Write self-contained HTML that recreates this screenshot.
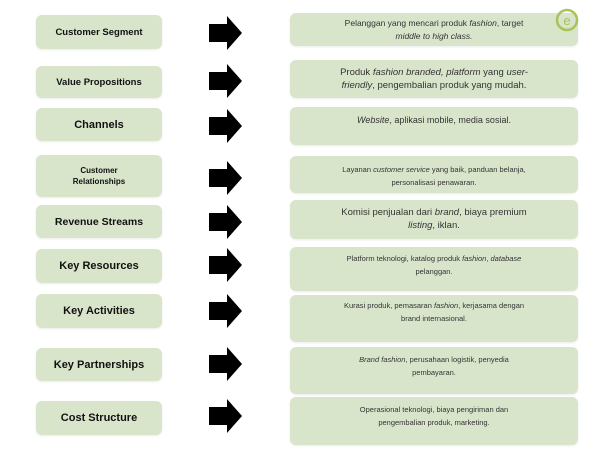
<!DOCTYPE html>
<html><head><meta charset="utf-8"><style>
body{margin:0;width:600px;height:450px;background:#fff;position:relative;overflow:hidden;font-family:"Liberation Sans",sans-serif}
.l,.r{position:absolute;background:#d9e5cb;border-radius:6px;box-shadow:0 1px 2px rgba(0,0,0,.08);text-align:center;color:#111}
.l{left:36px;width:126px;font-weight:bold;font-size:11px;display:flex;align-items:center;justify-content:center}
.r{left:290px;width:288px;font-size:8.5px;color:#333;line-height:13px;padding-top:4px;box-sizing:border-box;display:block}
.a{position:absolute;left:209px;width:33px;height:34px}
</style></head><body>
<div class="l" style="top:15px;height:34px;font-size:9.5px">Customer Segment</div>
<div class="l" style="top:66px;height:32px;font-size:9.5px">Value Propositions</div>
<div class="l" style="top:108px;height:33px">Channels</div>
<div class="l" style="top:155px;height:42px;font-size:8px;line-height:11px">Customer<br>Relationships</div>
<div class="l" style="top:205px;height:33px;font-size:10.5px">Revenue Streams</div>
<div class="l" style="top:249px;height:34px">Key Resources</div>
<div class="l" style="top:294px;height:34px">Key Activities</div>
<div class="l" style="top:348px;height:33px">Key Partnerships</div>
<div class="l" style="top:401px;height:34px">Cost Structure</div>

<div class="r" style="top:13px;height:33px">Pelanggan yang mencari produk <i>fashion</i>, target<br><i>middle to high class.</i></div>
<div class="r" style="top:60px;height:38px;font-size:9.5px;padding-top:6px">Produk <i>fashion branded, platform</i> yang <i>user-</i><br><i>friendly</i>, pengembalian produk yang mudah.</div>
<div class="r" style="top:107px;height:38px;font-size:9px;padding-top:7px"><i>Website</i>, aplikasi mobile, media sosial.</div>
<div class="r" style="top:156px;height:37px;font-size:7.5px;padding-top:7px">Layanan <i>customer service</i> yang baik, panduan belanja,<br>personalisasi penawaran.</div>
<div class="r" style="top:200px;height:39px;font-size:9.5px;padding-top:6px">Komisi penjualan dari <i>brand</i>, biaya premium<br><i>listing</i>, iklan.</div>
<div class="r" style="top:247px;height:44px;font-size:7.5px;padding-top:5px">Platform teknologi, katalog produk <i>fashion</i>, <i>database</i><br>pelanggan.</div>
<div class="r" style="top:295px;height:47px;font-size:7.5px;padding-top:4px">Kurasi produk, pemasaran <i>fashion</i>, kerjasama dengan<br>brand internasional.</div>
<div class="r" style="top:347px;height:47px;font-size:7.5px;padding-top:6px"><i>Brand fashion</i>, perusahaan logistik, penyedia<br>pembayaran.</div>
<div class="r" style="top:397px;height:48px;font-size:7.5px;padding-top:6px">Operasional teknologi, biaya pengiriman dan<br>pengembalian produk, marketing.</div>

<svg style="position:absolute;left:0;top:0" width="600" height="450">
<defs><polygon id="ar" points="0,-9 18,-9 18,-17 33,0 18,17 18,9 0,9" fill="#000"/></defs>
<use href="#ar" x="209" y="33"/><use href="#ar" x="209" y="81"/><use href="#ar" x="209" y="126"/>
<use href="#ar" x="209" y="178"/><use href="#ar" x="209" y="222"/><use href="#ar" x="209" y="265"/>
<use href="#ar" x="209" y="311"/><use href="#ar" x="209" y="364"/><use href="#ar" x="209" y="416"/>
<circle cx="567" cy="20" r="10" fill="none" stroke="#a9c25a" stroke-width="2.5"/>
<text x="567" y="25" font-size="13" fill="#a9c25a" text-anchor="middle" font-family="Liberation Sans">e</text>
</svg>
</body></html>
